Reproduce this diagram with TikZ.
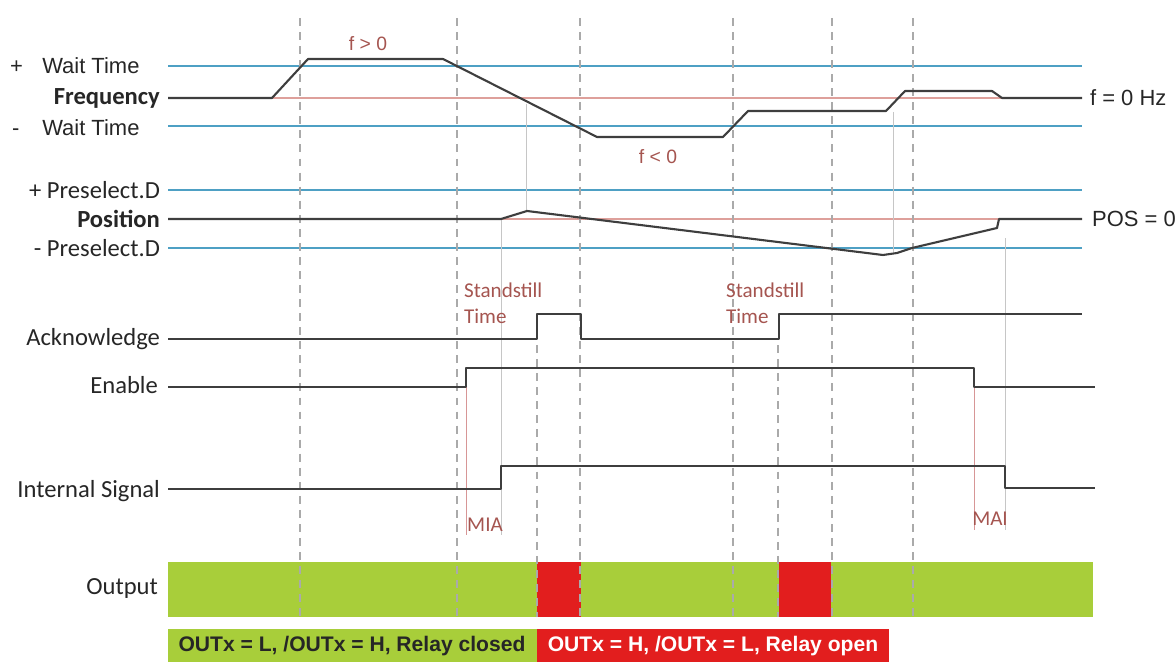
\documentclass[tikz,border=0pt]{standalone}
\usepackage{fontspec}
\setmainfont{Carlito}
\newfontfamily\arial{Liberation Sans}
\definecolor{lineblue}{RGB}{78,160,196}
\definecolor{linered}{RGB}{222,160,155}
\definecolor{sig}{RGB}{62,62,62}
\definecolor{notered}{RGB}{165,85,80}
\definecolor{hintred}{RGB}{215,150,150}
\definecolor{okgreen}{RGB}{168,206,58}
\definecolor{relayred}{RGB}{226,30,30}
\definecolor{guidegray}{RGB}{170,170,170}
\begin{document}
\begin{tikzpicture}[x=0.02cm, y=-0.02cm,
  label/.style={anchor=east, inner sep=1pt, text=black!85, font=\fontsize{14}{16}\selectfont},
  unit/.style={anchor=west, inner sep=1pt, text=black!85, font=\arial\fontsize{12.5}{15}\selectfont},
  note/.style={inner sep=1pt, text=notered, align=left, font=\fontsize{12}{15}\selectfont},
  level/.style={draw=lineblue, line width=1.1pt},
  zero/.style={draw=linered, line width=1.1pt},
  signal/.style={draw=sig, line width=1.2pt, line join=round},
  guide/.style={draw=guidegray, line width=0.6pt, dash pattern=on 4.5pt off 3.5pt},
  hint/.style={draw=gray!45, line width=0.4pt},
  legendtext/.style={inner sep=0pt, font=\arial\bfseries\fontsize{12}{14}\selectfont}
]
\useasboundingbox (0,0) rectangle (1175,662);

\foreach \y in {66,126,190,248}
  \draw[level] (168,\y) -- (1082,\y);
\draw[zero] (272,98) -- (1002,98);
\draw[zero] (501,219) -- (999,219);

\draw[hint] (526,104) -- (526,210);
\draw[hint] (501,219) -- (501,535);
\draw[hint, draw=hintred] (466,368) -- (466,535);
\draw[hint] (893,112) -- (893,252);
\draw[hint] (1005,238) -- (1005,530);
\draw[hint, draw=hintred] (974,368) -- (974,530);

\fill[okgreen] (168,562) rectangle (1093,617);
\fill[relayred] (537,562) rectangle (581,617);
\fill[relayred] (779,562) rectangle (831,617);

\foreach \x in {300,457,580,733,832,913}
  \draw[guide] (\x,18) -- (\x,617);
\foreach \x in {537,778}
  \draw[guide] (\x,345) -- (\x,617);

\draw[signal] (168,98) -- (272,98) -- (308,59) -- (443,59) -- (597,137) -- (723,137) -- (748,111)
  -- (886,111) -- (905,91) -- (992,91) -- (1002,98) -- (1082,98);
\draw[signal] (168,219) -- (501,219) -- (527,211) -- (883,255) -- (897,253) -- (912,248)
  -- (997,228) -- (999,219) -- (1082,219);
\draw[signal] (168,339) -- (537,339) -- (537,314) -- (581,314) -- (581,339) -- (779,339)
  -- (779,314) -- (1082,314);
\draw[signal] (168,387) -- (466,387) -- (466,368) -- (974,368) -- (974,387) -- (1095,387);
\draw[signal] (168,489) -- (501,489) -- (501,466) -- (1005,466) -- (1005,488) -- (1095,488);

\node[unit] (waitplus) at (8,66) {+\hspace{11pt}Wait Time};
\node[label, font=\bfseries\fontsize{14}{16}\selectfont] (freq) at (162,98) {Frequency};
\node[unit] (waitminus) at (10,128) {-\hspace{13pt}Wait Time};
\node[label] (preplus) at (162,190) {+ Preselect.D};
\node[label, font=\bfseries\fontsize{14}{16}\selectfont] (pos) at (162,219) {Position};
\node[label] (preminus) at (162,248) {- Preselect.D};
\node[label] (ack) at (162,339) {Acknowledge};
\node[label] (enable) at (160,385) {Enable};
\node[label] (internal) at (162,491) {Internal Signal};
\node[label] (output) at (160,588) {Output};

\node[unit] (fzero) at (1088,98) {f = 0 Hz};
\node[unit] (poszero) at (1090,219) {POS = 0};
\node[note, font=\arial\fontsize{11}{13}\selectfont] (fpos) at (368,44) {f > 0};
\node[note, font=\arial\fontsize{11}{13}\selectfont] (fneg) at (658,157) {f < 0};
\node[note, anchor=west] (stand1) at (462,303) {Standstill\\Time};
\node[note, anchor=west] (stand2) at (724,303) {Standstill\\Time};
\node[note] (mia) at (485,525) {MIA};
\node[note] (mai) at (990,519) {MAI};

\fill[okgreen] (168,629) rectangle (537,662);
\fill[relayred] (537,629) rectangle (889,662);
\node[legendtext, text=black!85] (closed) at (352,646) {OUTx = L, /OUTx = H, Relay closed};
\node[legendtext, text=white] (open) at (713,646) {OUTx = H, /OUTx = L, Relay open};
\end{tikzpicture}
\end{document}
